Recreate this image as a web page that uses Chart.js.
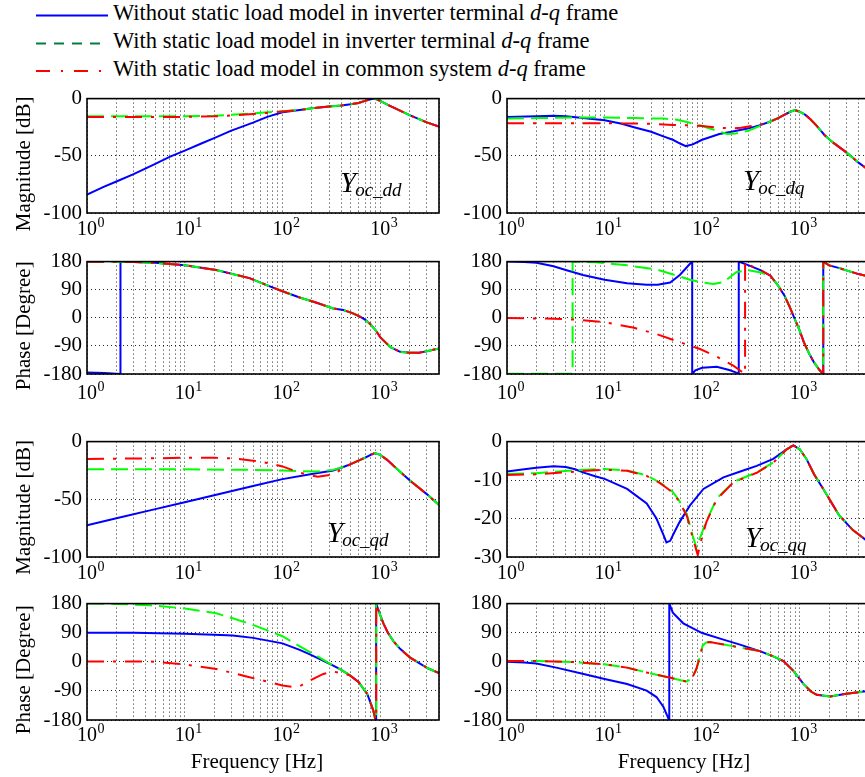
<!DOCTYPE html>
<html><head><meta charset="utf-8">
<script src="https://cdn.jsdelivr.net/npm/chart.js@4.4.0/dist/chart.umd.min.js"></script>
<style>
html,body{margin:0;padding:0;background:#fff;overflow:hidden;width:865px;height:777px;position:relative;}
canvas{position:absolute;}
#legend{position:absolute;left:0;top:0;width:760px;height:85px;font-family:'Liberation Serif',serif;font-size:22.5px;color:#000;}
.lg{position:absolute;left:113px;white-space:nowrap;line-height:22px;}
</style></head><body>
<div id="legend">
<svg width="120" height="85" style="position:absolute;left:0;top:0">
<line x1="36" y1="15.5" x2="108" y2="15.5" stroke="#0000ff" stroke-width="2"/>
<line x1="36" y1="43.5" x2="108" y2="43.5" stroke="#007f3f" stroke-width="2" stroke-dasharray="10 8"/>
<line x1="36" y1="71" x2="108" y2="71" stroke="#ff0000" stroke-width="2" stroke-dasharray="14 11 2 11"/>
</svg>
<div class="lg" style="top:2px">Without static load model in inverter terminal <i>d-q</i> frame</div>
<div class="lg" style="top:30px">With static load model in inverter terminal <i>d-q</i> frame</div>
<div class="lg" style="top:58px">With static load model in common system <i>d-q</i> frame</div>
</div>
<script>
// ---------- tick labels ----------
const magTicks = [-100, -50, 0];
const qqMagTicks = [-30, -20, -10, 0];
const phaseTicks = [-180, -90, 0, 90, 180];
const decadeValues = [1, 10, 100, 1000];
const decadeExponents = ['0', '1', '2', '3'];
const seriesLabels = ['Without static load model in inverter terminal d-q frame',
  'With static load model in inverter terminal d-q frame',
  'With static load model in common system d-q frame'];

// ---------- Y_oc_dd magnitude [dB]  ([frequency Hz, value]) ----------
const ddMagTail = [[150,-10],[200,-8.5],[300,-7],[400,-6],[500,-5],[600,-3.8],[700,-2],[800,-0.5],[870,0],[1000,-2],[1200,-5.5],[1500,-9.5],[2000,-14.5],[2500,-18],[3000,-20.8],[4000,-24.5]];
const ddMag_noLoad = [[1,-84],[1.5,-77],[2,-72.5],[3,-66],[5,-57],[7,-51],[10,-45.5],[15,-39],[20,-34.5],[30,-28],[50,-21],[70,-16],[100,-12]];
const ddMag_loadTerm = [[1,-15.5],[5,-15.5],[10,-15.5],[20,-15],[30,-14.2],[50,-13],[70,-12],[100,-11]];
const ddMag_loadCommon = [[1,-16],[5,-16],[10,-16],[20,-15.5],[30,-14.8],[50,-13.5],[70,-12.5],[100,-11.2]];

// ---------- Y_oc_dq magnitude [dB] ----------
const dqMagTail = [[500,-20],[600,-17],[700,-14],[800,-11.5],[890,-10],[1000,-11.5],[1150,-14.5],[1300,-18.5],[1500,-24],[1800,-32],[2200,-38.5],[3000,-47],[4000,-56],[5000,-62]];
const dqMag_noLoad = [[1,-16],[2,-15.5],[3,-15],[4,-15.5],[6,-17],[10,-19],[15,-22],[20,-25],[30,-29],[40,-33],[50,-36],[60,-39.5],[68,-41.5],[80,-40],[100,-36],[150,-31],[200,-29],[300,-26],[400,-23]];
const dqMag_loadTerm = [[1,-17.5],[2,-17],[5,-16.5],[10,-16.5],[20,-17],[40,-17.5],[55,-18.5],[70,-20.5],[100,-24],[140,-28],[180,-31],[220,-30.5],[300,-28],[400,-23.5]];
const dqMag_loadCommon = [[1,-21.5],[5,-21.5],[10,-21.5],[30,-22],[50,-23],[80,-23.5],[100,-24],[150,-25.5],[200,-26],[250,-25.5],[320,-24],[400,-22.5]];

// ---------- Y_oc_dd phase [deg] ----------
const ddPhTail = [[3,179],[5,176],[10,168.5],[21,153],[46,127],[70,104],[100,85],[150,65],[224,48],[331,30],[420,25],[520,15],[622,4],[700,-6],[790,-20],[900,-40],[1000,-62],[1260,-93],[1600,-109],[2000,-112],[2500,-112],[3000,-107],[4000,-98]];
const ddPh_noLoad = [[1,-175],[1.5,-177],[2.2,-180],[2.2,180]];
const ddPh_loadTerm = [[1,179.8],[2,179.5]];
const ddPh_loadCommon = [[1,179.8],[2,179.5]];

// ---------- Y_oc_dq phase [deg] ----------
const dqPhTail = [[500,135],[600,103],[700,70],[800,30],[900,-8],[1000,-42],[1100,-78],[1250,-115],[1400,-143],[1600,-168],[1740,-180],[1740,180],[2000,168],[2500,160],[3000,152],[4000,140],[5000,133]];
const dqPh_noLoad = [[1,180],[1.5,179],[2,176],[3,165],[4,153],[6,137],[10,122],[17,111],[27,106],[35,106],[47,113],[59,137],[75,173],[79,180],[79,-180],[85,-168],[100,-160],[141,-157],[193,-168],[220,-175],[237,-180],[237,180],[300,168],[400,152]];
const dqPh_loadTerm = [[1,-179],[4.7,-179],[4.7,180],[8,178],[17,168],[34,155],[75,122],[100,113],[130,108],[165,114],[225,147],[300,152],[400,145]];
const dqPh_loadCommon = [[1,-1],[3,-3],[5,-6],[10,-14],[20,-32],[34,-52],[59,-78],[95,-100],[140,-124],[210,-154],[253,-172],[275,-180],[275,180],[300,170],[400,152]];

// ---------- Y_oc_qd magnitude [dB] ----------
const qdMagTail = [[500,-19.5],[600,-16.5],[700,-14],[800,-11.5],[880,-10],[1000,-11.5],[1170,-15.6],[1500,-24],[2000,-33.5],[3000,-45.5],[4000,-55]];
const qdMag_noLoad = [[1,-72.5],[2,-66.5],[5,-58.5],[10,-52.5],[20,-46.5],[50,-38.5],[100,-32.5],[200,-28],[331,-25],[420,-22]];
const qdMag_loadTerm = [[1,-24],[10,-24],[50,-24.5],[100,-25],[150,-25.5],[230,-26],[331,-24.5],[420,-22]];
const qdMag_loadCommon = [[1,-15],[5,-14.5],[10,-14],[20,-14],[31,-14.5],[50,-16.5],[70,-18.5],[100,-21.5],[150,-27],[230,-30.5],[331,-28.5],[420,-23]];

// ---------- Y_oc_qq magnitude [dB] ----------
const qqMagTail = [[734,-2],[859,-1],[1000,-2],[1170,-4.5],[1400,-8.5],[1740,-12.3],[2520,-19.1],[3500,-23],[5000,-26]];
const qqMag_noLoad = [[1,-7.8],[1.5,-7.2],[2,-6.8],[3,-6.4],[4,-6.6],[5,-7.2],[6,-8],[8,-9],[10,-9.7],[17,-12.3],[27,-16.1],[34,-20],[40,-24.2],[43,-26.2],[47,-25.8],[52,-23.5],[59,-20.8],[75,-16.6],[103,-12.3],[165,-9.3],[250,-7.7],[362,-6.3],[535,-4.5]];
const qqMag_loadTerm = [[1,-8.4],[2,-8.2],[4.6,-7.5],[10,-7.1],[17,-7.5],[27,-8.8],[36,-10.5],[43,-11.8],[50,-13.1],[58,-15.3],[70,-19.1],[80,-24.5],[87,-27.5],[95,-25],[110,-20.8],[141,-14.8],[209,-10.5],[362,-8],[535,-5.4]];
const qqMag_loadCommon = [[1,-8.7],[2,-8.5],[5,-7.8],[10,-7.3],[17,-7.6],[27,-8.9],[36,-10.6],[43,-12],[50,-13.3],[58,-15.5],[70,-19.5],[80,-25],[90,-29.5],[97,-26],[110,-21],[141,-15],[209,-10.6],[362,-8.1],[535,-5.5]];

// ---------- Y_oc_qd phase [deg] ----------
const qdPhTail = [[491,-42],[600,-62],[673,-83],[740,-100],[788,-123],[850,-150],[887,-174],[910,-180],[910,180],[960,160],[1000,145],[1079,119],[1200,90],[1365,64],[1600,40],[2024,13],[3075,-20],[4000,-35]];
const qdPh_noLoad = [[1,90],[3,89.5],[10,87],[20,84],[31,81],[50,74],[100,57],[150,37],[191,23],[250,6],[331,-12],[400,-25]];
const qdPh_loadTerm = [[1,180],[2,179],[4.4,175],[10,165],[21,150],[31,134.5],[50,114],[100,79],[191,30],[250,10],[331,-12],[400,-25]];
const qdPh_loadCommon = [[1,1],[4.4,1],[10,-8],[21,-22],[46,-47.5],[100,-73],[129,-78],[150,-76],[177,-63],[262,-37.5],[331,-30],[420,-37]];

// ---------- Y_oc_qq phase [deg] ----------
const qqPhTail = [[390,33],[535,17],[680,2.5],[860,-28],[1090,-68.5],[1300,-92],[1490,-102],[2050,-107],[3000,-99],[5000,-90]];
const qqPh_noLoad = [[1,0],[1.5,-2],[2,-5.5],[3.2,-18],[6.1,-38],[10,-53],[17,-68.5],[27,-89],[34,-109],[40,-139],[45,-175],[46,-180],[46,180],[50,152],[64,119],[100,89],[165,68.5],[244,53]];
const qqPh_loadTerm = [[1,2.5],[2,2.5],[4.6,-0.5],[10,-7.6],[17,-18],[27,-33],[50,-51],[60,-57],[69,-61],[75,-55],[81,-43],[87,-23],[94,12],[101,50],[110,60],[120,61],[150,56],[193,50],[250,44],[320,38]];
const qqPh_loadCommon = [[1,2.5],[2,2.5],[4.6,-0.5],[10,-7.6],[17,-18],[27,-33],[50,-51],[60,-57],[69,-61],[75,-55],[81,-43],[87,-23],[94,12],[101,50],[110,60],[120,61],[150,56],[193,50],[250,44],[320,38]];

// ---------- layout ----------
const FONT = "'Liberation Serif', serif";
const PADT = 16;
const COLS = [{left:0, yAxisW:87, width:445, padR:6, xmax:4000, freqDx:170},
              {left:440, yAxisW:67, width:440, padR:12, xmax:5000, freqDx:177}];
const ROWS = [{T:97,B:213,xH:30,lab:22},{T:260,B:374,xH:34,lab:25},{T:440,B:557,xH:30,lab:22},{T:602,B:720,xH:57,lab:21}];

const panels = [
  {row:0,col:0,yr:[-100,0],yt:magTicks,ytitle:'Magnitude [dB]',ann:{sub:'oc_dd',dx:253,dy:93},s:[ddMag_noLoad.concat(ddMagTail),ddMag_loadTerm.concat(ddMagTail),ddMag_loadCommon.concat(ddMagTail)]},
  {row:0,col:1,yr:[-100,0],yt:magTicks,ann:{sub:'oc_dq',dx:236,dy:91},s:[dqMag_noLoad.concat(dqMagTail),dqMag_loadTerm.concat(dqMagTail),dqMag_loadCommon.concat(dqMagTail)]},
  {row:1,col:0,yr:[-180,180],yt:phaseTicks,ytitle:'Phase [Degree]',s:[ddPh_noLoad.concat(ddPhTail),ddPh_loadTerm.concat(ddPhTail),ddPh_loadCommon.concat(ddPhTail)]},
  {row:1,col:1,yr:[-180,180],yt:phaseTicks,s:[dqPh_noLoad.concat(dqPhTail),dqPh_loadTerm.concat(dqPhTail),dqPh_loadCommon.concat(dqPhTail)]},
  {row:2,col:0,yr:[-100,0],yt:magTicks,ytitle:'Magnitude [dB]',ann:{sub:'oc_qd',dx:240,dy:100},s:[qdMag_noLoad.concat(qdMagTail),qdMag_loadTerm.concat(qdMagTail),qdMag_loadCommon.concat(qdMagTail)]},
  {row:2,col:1,yr:[-30,0],yt:qqMagTicks,ann:{sub:'oc_qq',dx:238,dy:105},s:[qqMag_noLoad.concat(qqMagTail),qqMag_loadTerm.concat(qqMagTail),qqMag_loadCommon.concat(qqMagTail)]},
  {row:3,col:0,yr:[-180,180],yt:phaseTicks,ytitle:'Phase [Degree]',xtitle:'Frequency [Hz]',s:[qdPh_noLoad.concat(qdPhTail),qdPh_loadTerm.concat(qdPhTail),qdPh_loadCommon.concat(qdPhTail)]},
  {row:3,col:1,yr:[-180,180],yt:phaseTicks,xtitle:'Frequency [Hz]',s:[qqPh_noLoad.concat(qqPhTail),qqPh_loadTerm.concat(qqPhTail),qqPh_loadCommon.concat(qqPhTail)]}
];

function logTicks(max){
  const t=[];
  for(let d=1; d<=max; d*=10){ for(let k=1;k<=9;k++){ const v=k*d; if(v<=max) t.push(v);} }
  return t;
}
const toXY = arr => arr.map(p => ({x:p[0], y:p[1]}));

function panelPlugin(p, col, row, canvasTop){
  return {
    id:'panelDecor',
    afterDatasetsDraw(chart){
      const {ctx, chartArea:a, scales} = chart;
      ctx.save();
      ctx.setLineDash([]);
      ctx.strokeStyle='#000'; ctx.lineWidth=1.6;
      ctx.strokeRect(a.left, a.top, a.right-a.left, a.bottom-a.top);
      ctx.fillStyle='#000';
      ctx.textBaseline='alphabetic';
      decadeValues.forEach((v,i)=>{
        const px = scales.x.getPixelForValue(v);
        ctx.font = '20px '+FONT;
        const w = ctx.measureText('10').width;
        ctx.textAlign='center';
        ctx.fillText('10', px, a.bottom+row.lab);
        ctx.font = '14px '+FONT;
        ctx.textAlign='left';
        ctx.fillText(decadeExponents[i], px + w/2 + 0.5, a.bottom+row.lab-8);
      });
      if(p.ytitle){
        ctx.save();
        ctx.translate(24.5 - col.left, (a.top+a.bottom)/2 + 8);
        ctx.rotate(-Math.PI/2);
        ctx.font='21px '+FONT; ctx.textAlign='center'; ctx.textBaseline='middle';
        ctx.fillText(p.ytitle, 0, 0);
        ctx.restore();
      }
      if(p.xtitle){
        ctx.font='21px '+FONT; ctx.textAlign='center'; ctx.textBaseline='alphabetic';
        ctx.fillText(p.xtitle, a.left + col.freqDx, 768 - canvasTop);
      }
      if(p.ann){
        const x0 = a.left + p.ann.dx, y0 = a.top + p.ann.dy;
        ctx.textAlign='left'; ctx.textBaseline='alphabetic';
        ctx.font='italic 29px '+FONT;
        ctx.fillText('Y', x0, y0);
        const wy = ctx.measureText('Y').width;
        ctx.font='italic 19px '+FONT;
        ctx.fillText(p.ann.sub, x0 + wy - 1, y0 + 4);
      }
      ctx.restore();
    }
  };
}

function buildAll(){
  panels.forEach(p=>{
    const col = COLS[p.col], row = ROWS[p.row];
    const cv = document.createElement('canvas');
    const h = PADT + (row.B-row.T) + row.xH;
    cv.width = col.width; cv.height = h;
    cv.style.left = col.left+'px'; cv.style.top = (row.T-PADT)+'px';
    cv.style.width = col.width+'px'; cv.style.height = h+'px';
    document.body.appendChild(cv);
    const gridOpts = {color:'rgba(0,0,0,0.85)', lineWidth:1, drawTicks:false};
    new Chart(cv, {
      type:'line',
      data:{datasets:[
        {label:seriesLabels[2], data:toXY(p.s[2]), borderColor:'#ff0000', borderDash:[17,9,3,9], order:1},
        {label:seriesLabels[1], data:toXY(p.s[1]), borderColor:'#00ff00', borderDash:[17,7], order:2},
        {label:seriesLabels[0], data:toXY(p.s[0]), borderColor:'#0000ff', order:3}
      ]},
      options:{
        responsive:false, animation:false, events:[],
        layout:{padding:{left:0, right:col.padR, top:PADT, bottom:0}},
        plugins:{legend:{display:false}, tooltip:{enabled:false}},
        elements:{point:{radius:0}, line:{borderWidth:2, tension:0, fill:false, borderCapStyle:'butt'}},
        scales:{
          x:{type:'logarithmic', min:1, max:col.xmax,
             ticks:{display:false, autoSkip:false},
             grid:gridOpts, border:{display:false, dash:[1,3]},
             afterBuildTicks:s=>{ s.ticks = logTicks(col.xmax).map(v=>({value:v})); },
             afterFit:s=>{ s.height = row.xH; }},
          y:{type:'linear', min:p.yr[0], max:p.yr[1],
             ticks:{font:{family:FONT, size:21}, color:'#000', padding:5, autoSkip:false, callback:v=>String(v)},
             grid:gridOpts, border:{display:false, dash:[1,3]},
             afterBuildTicks:s=>{ s.ticks = p.yt.map(v=>({value:v})); },
             afterFit:s=>{ s.width = col.yAxisW; }}
        }
      },
      plugins:[panelPlugin(p, col, row, row.T-PADT)]
    });
  });
}

let built = false;
function go(){ if(!built){ built = true; buildAll(); } }
if (document.fonts && document.fonts.load) {
  Promise.all([
    document.fonts.load("21px 'Liberation Serif'"),
    document.fonts.load("italic 21px 'Liberation Serif'")
  ]).then(go, go);
  setTimeout(go, 1500);
} else { go(); }
</script>
</body></html>
